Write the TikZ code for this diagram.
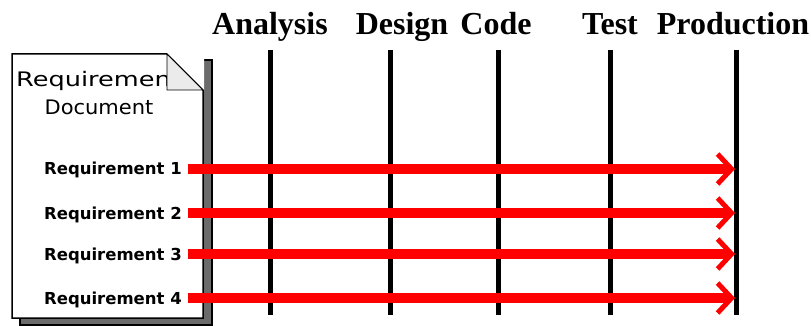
\documentclass[tikz,border=0pt]{standalone}
\usepackage{fontspec}
\usetikzlibrary{arrows.meta}
\newfontfamily\phasefont{Liberation Serif}
\newfontfamily\docfont{DejaVu Sans}
\definecolor{shadowgray}{gray}{0.42}
\definecolor{foldgray}{gray}{0.92}

\tikzset{
  phaselabel/.style={anchor=base, inner sep=0pt,
    font=\phasefont\bfseries\fontsize{32}{32}\selectfont},
  phaseline/.style={line width=5pt},
  doctitle/.style={inner sep=0pt,
    font=\docfont\fontsize{20}{20}\selectfont},
  reqlabel/.style={anchor=east, inner sep=0pt, text height=12pt, text depth=0pt,
    font=\docfont\bfseries\fontsize{16.5}{16.5}\selectfont},
  reqarrow/.style={red, line width=10pt,
    -{Straight Barb[length=14pt,width=30pt,line width=5pt]}},
}

% phase heading with its life line: name, label x, line x, text
\newcommand{\phase}[4]
{
\node[phaselabel] (#1) at (#2,35) {#4};
\coordinate (#1 top) at (#3,50);
\coordinate (#1 bottom) at (#3,315);
\draw[phaseline] (#1 top) -- (#1 bottom);
}

% requirement label with its arrow into production: name, y, text
\newcommand{\requirement}[3]
{
\node[reqlabel] (#1) at (182,#2) {#3};
\coordinate (#1 end) at (735,#2);
\draw[reqarrow] ([xshift=6pt]#1.east) -- (#1 end);
}

\begin{document}
\begin{tikzpicture}[x=1pt, y=-1pt
  % show background grid
  ]
  \useasboundingbox (0,0) rectangle (811,326);

  % the document sheet
  \draw[fill=shadowgray, line width=1.5pt] (20,60) rectangle (212,325);
  \draw[fill=white, line width=1.5pt]
    (12,54) -- (167,54) -- (203,90) -- (203,318) -- (12,318) -- cycle;
  \node[doctitle, anchor=base west] (title) at (16,87)
    {\addfontfeature{FakeStretch=1.28}Requirement};
  \node[doctitle, anchor=base] (subtitle) at (99,115)
    {\addfontfeature{FakeStretch=1.05}Document};
  \fill[white] (167,53) -- (204,53) -- (204,90) -- cycle;
  \draw[fill=foldgray, line width=0.8pt] (167,54) -- (167,90) -- (203,90) -- cycle;

  \phase{analysis}{270}{270}{Analysis}
  \phase{design}{402}{390}{Design}
  \phase{code}{496}{498}{Code}
  \phase{test}{610}{610}{Test}
  \phase{production}{733}{736}{Production}

  \requirement{req1}{169}{Requirement 1}
  \requirement{req2}{213}{Requirement 2}
  \requirement{req3}{254}{Requirement 3}
  \requirement{req4}{298}{Requirement 4}

\end{tikzpicture}
\end{document}
